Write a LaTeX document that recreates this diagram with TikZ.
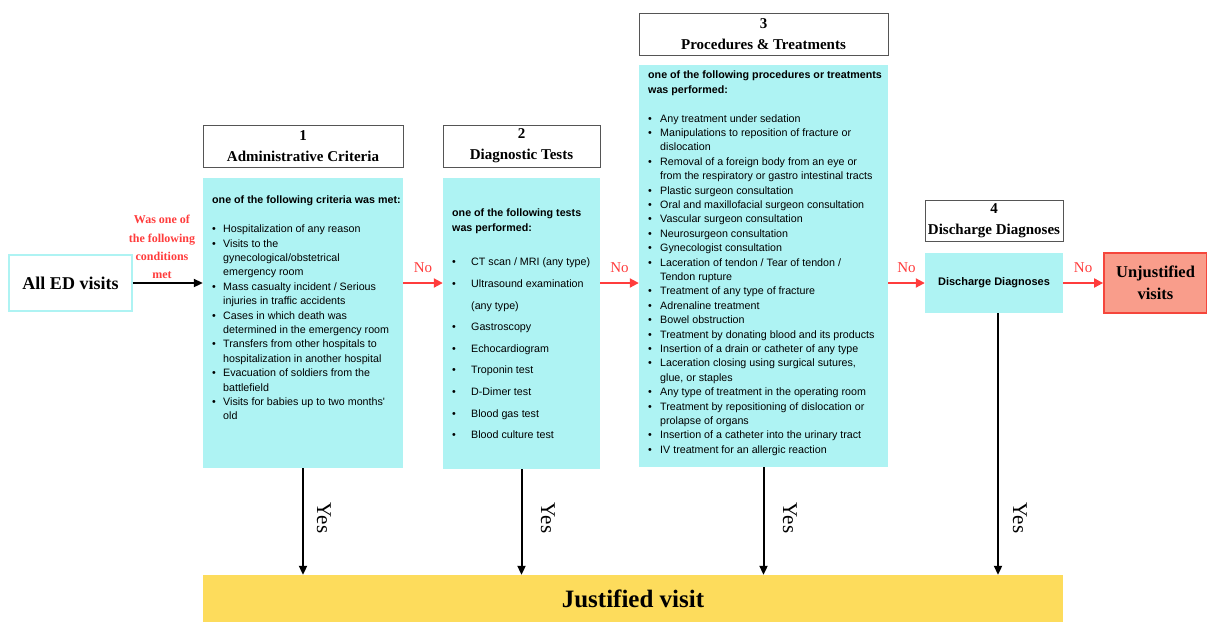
\documentclass[tikz,border=0pt]{standalone}
\usepackage{fontspec}
\setmainfont{Liberation Serif}
\newfontfamily\arialf{Liberation Sans}
\usetikzlibrary{arrows.meta}
\definecolor{cyanbox}{RGB}{174,243,243}
\definecolor{hdrgray}{RGB}{85,85,85}
\definecolor{noRed}{RGB}{255,60,60}
\definecolor{justY}{RGB}{253,220,92}
\definecolor{unjFill}{RGB}{249,157,139}
\definecolor{unjBorder}{RGB}{245,70,60}
\newcommand\bul[2]{\makebox[#1][l]{\textbullet}#2}
\newcommand\cnt[2]{\hspace*{#1}#2}
\begin{document}
\begin{tikzpicture}[x=1pt,y=-1pt,
  panel/.style={fill=cyanbox, draw=none, inner sep=0pt},
  header/.style={fill=white, draw=hdrgray, line width=0.8pt, inner sep=0pt, align=center,
    font=\fontsize{15}{21}\selectfont\bfseries},
  listtext/.style={inner sep=0pt, anchor=north west, align=left,
    font=\arialf\fontsize{10.7}{14.4}\selectfont},
  yesarrow/.style={line width=2pt, -{Triangle[length=9pt,width=8pt]}},
  noarrow/.style={draw=noRed, line width=2pt, -{Triangle[length=9pt,width=9pt]}},
  nolabel/.style={text=noRed, font=\fontsize{15}{15}\selectfont, above=9pt, inner sep=0pt},
  yeslabel/.style={rotate=-90, font=\fontsize{21}{21}\selectfont, inner sep=0pt}
]
\useasboundingbox (0,0) rectangle (1207,622);

% start box
\node[draw=cyanbox, line width=1.5pt, fill=white, minimum width=123pt, minimum height=56pt,
  font=\fontsize{18}{18}\selectfont\bfseries] (ed) at (70.5,283) {All ED visits};
\node[text=noRed, align=center, inner sep=0pt, font=\fontsize{12}{18.2}\selectfont\bfseries]
  (q) at (162,247) {Was one of\\the following\\conditions\\met};

% panels
\node[panel, minimum width=200pt, minimum height=290pt] (b1) at (303,323) {};
\node[panel, minimum width=157pt, minimum height=291pt] (b2) at (521.5,323.5) {};
\node[panel, minimum width=249pt, minimum height=402pt] (b3) at (763.5,266) {};
\node[panel, minimum width=138pt, minimum height=60pt] (b4) at (994,283) {};
\node[fill=unjFill, draw=unjBorder, line width=1.8pt, minimum width=103pt, minimum height=60pt,
  inner sep=0pt, align=center, font=\fontsize{16.5}{22}\selectfont\bfseries]
  (uj) at (1155.5,283) {Unjustified\\visits};
\node[fill=justY, minimum width=860pt, minimum height=47pt, inner sep=0pt,
  font=\fontsize{25}{25}\selectfont\bfseries] (jv) at (633,598.5) {Justified visit};

% headers
\node[header, minimum width=200pt, minimum height=42pt] (h1) at (303,146) {1\\Administrative Criteria};
\node[header, minimum width=157pt, minimum height=42pt] (h2) at (521.5,146) {2\\Diagnostic Tests};
\node[header, minimum width=249pt, minimum height=42pt] (h3) at (763.5,34) {3\\Procedures \& Treatments};
\node[header, minimum width=138pt, minimum height=41pt] (h4) at (994,220.5) {4\\Discharge Diagnoses};

% panel texts
\node[listtext] (t1) at (212,196) {\textbf{one of the following criteria was met:}\\[14.4pt]
\bul{11pt}{Hospitalization of any reason}\\
\bul{11pt}{Visits to the}\\
\cnt{11pt}{gynecological/obstetrical}\\
\cnt{11pt}{emergency room}\\
\bul{11pt}{Mass casualty incident / Serious}\\
\cnt{11pt}{injuries in traffic accidents}\\
\bul{11pt}{Cases in which death was}\\
\cnt{11pt}{determined in the emergency room}\\
\bul{11pt}{Transfers from other hospitals to}\\
\cnt{11pt}{hospitalization in another hospital}\\
\bul{11pt}{Evacuation of soldiers from the}\\
\cnt{11pt}{battlefield}\\
\bul{11pt}{Visits for babies up to two months'}\\
\cnt{11pt}{old}};

\node[listtext, font=\arialf\fontsize{10.7}{15}\selectfont\bfseries] (t2h) at (452,209)
  {one of the following tests\\was performed:};
\node[listtext, font=\arialf\fontsize{10.7}{21.6}\selectfont] (t2) at (452,258) {%
\bul{19pt}{CT scan / MRI (any type)}\\
\bul{19pt}{Ultrasound examination}\\
\cnt{19pt}{(any type)}\\
\bul{19pt}{Gastroscopy}\\
\bul{19pt}{Echocardiogram}\\
\bul{19pt}{Troponin test}\\
\bul{19pt}{D-Dimer test}\\
\bul{19pt}{Blood gas test}\\
\bul{19pt}{Blood culture test}};

\node[listtext] (t3) at (648,71) {\textbf{one of the following procedures or treatments}\\
\textbf{was performed:}\\[14.4pt]
\bul{12pt}{Any treatment under sedation}\\
\bul{12pt}{Manipulations to reposition of fracture or}\\
\cnt{12pt}{dislocation}\\
\bul{12pt}{Removal of a foreign body from an eye or}\\
\cnt{12pt}{from the respiratory or gastro intestinal tracts}\\
\bul{12pt}{Plastic surgeon consultation}\\
\bul{12pt}{Oral and maxillofacial surgeon consultation}\\
\bul{12pt}{Vascular surgeon consultation}\\
\bul{12pt}{Neurosurgeon consultation}\\
\bul{12pt}{Gynecologist consultation}\\
\bul{12pt}{Laceration of tendon / Tear of tendon /}\\
\cnt{12pt}{Tendon rupture}\\
\bul{12pt}{Treatment of any type of fracture}\\
\bul{12pt}{Adrenaline treatment}\\
\bul{12pt}{Bowel obstruction}\\
\bul{12pt}{Treatment by donating blood and its products}\\
\bul{12pt}{Insertion of a drain or catheter of any type}\\
\bul{12pt}{Laceration closing using surgical sutures,}\\
\cnt{12pt}{glue, or staples}\\
\bul{12pt}{Any type of treatment in the operating room}\\
\bul{12pt}{Treatment by repositioning of dislocation or}\\
\cnt{12pt}{prolapse of organs}\\
\bul{12pt}{Insertion of a catheter into the urinary tract}\\
\bul{12pt}{IV treatment for an allergic reaction}};

\node[inner sep=0pt, font=\arialf\fontsize{11}{11}\selectfont\bfseries] (t4) at (994,283) {Discharge Diagnoses};

% horizontal connectors
\draw[yesarrow] (ed.east) -- (ed.east -| b1.west);
\draw[noarrow] (ed.east -| b1.east) -- node[nolabel]{No} (ed.east -| b2.west);
\draw[noarrow] (ed.east -| b2.east) -- node[nolabel]{No} (ed.east -| b3.west);
\draw[noarrow] (ed.east -| b3.east) -- node[nolabel]{No} (b4.west);
\draw[noarrow] (b4.east) -- node[nolabel]{No} (uj.west);

% vertical connectors
\draw[yesarrow] (b1.south) -- (b1.south |- jv.north);
\draw[yesarrow] (b2.south) -- (b2.south |- jv.north);
\draw[yesarrow] (b3.south) -- (b3.south |- jv.north);
\coordinate (b4o) at ([xshift=4pt]b4.south);
\draw[yesarrow] (b4o) -- (b4o |- jv.north);

\node[yeslabel] (y1) at (324,518) {Yes};
\node[yeslabel] (y2) at (548,518) {Yes};
\node[yeslabel] (y3) at (790,518) {Yes};
\node[yeslabel] (y4) at (1020,518) {Yes};
\end{tikzpicture}
\end{document}
